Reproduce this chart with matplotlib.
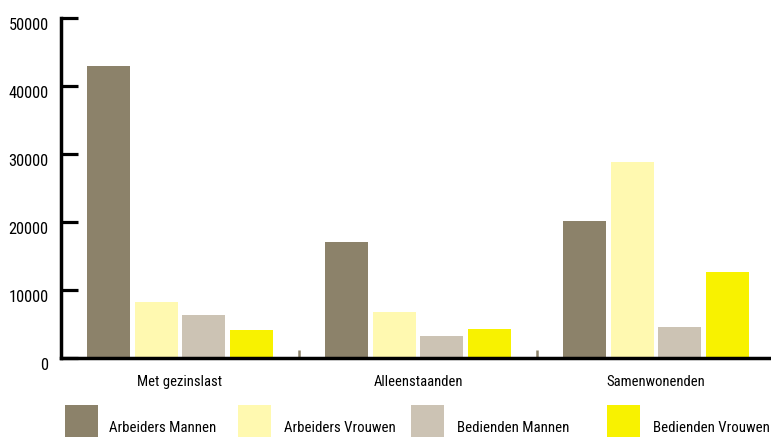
import matplotlib
matplotlib.use("Agg")
import matplotlib.pyplot as plt
from matplotlib import font_manager as fm
from matplotlib.patches import Rectangle
from matplotlib.transforms import ScaledTranslation
import numpy as np

categories = ["Met gezinslast", "Alleenstaanden", "Samenwonenden"]
series_names = ["Arbeiders Mannen", "Arbeiders Vrouwen", "Bedienden Mannen", "Bedienden Vrouwen"]
arbeiders_mannen = [43000, 17000, 20100]
arbeiders_vrouwen = [8200, 6800, 28800]
bedienden_mannen = [6300, 3200, 4500]
bedienden_vrouwen = [4100, 4300, 12600]
y_ticks = [0, 10000, 20000, 30000, 40000, 50000]

series = [arbeiders_mannen, arbeiders_vrouwen, bedienden_mannen, bedienden_vrouwen]
colors = ["#8c826a", "#fff9b0", "#ccc3b4", "#f8f200"]

# pick a narrow font if one is available
names = {f.name for f in fm.fontManager.ttflist}
family, stretch = None, "normal"
for c in ["Liberation Sans Narrow", "Arial Narrow", "Roboto Condensed", "Noto Sans Condensed",
          "DejaVu Sans Condensed", "Open Sans Condensed"]:
    if c in names:
        family = c
        break
if family is None:
    for base in ["DejaVu Sans", "Noto Sans", "Open Sans", "Roboto", "Liberation Sans"]:
        if any(f.name == base and str(f.stretch) in ("condensed", "semi-condensed", "extra-condensed")
               for f in fm.fontManager.ttflist):
            family, stretch = base, "condensed"
            break
if family is None:
    family = "Roboto" if "Roboto" in names else "DejaVu Sans"
plt.rcParams['font.family'] = [family, 'DejaVu Sans']
plt.rcParams['font.stretch'] = stretch

W, H = 771, 437
fig = plt.figure(figsize=(W / 100, H / 100), dpi=100)

# scale font sizes so text widths match the reference
renderer = fig.canvas.get_renderer()


def fit(text, target):
    t = fig.text(0, 0, text, fontsize=12)
    w = t.get_window_extent(renderer).width
    t.remove()
    return min(14, 12 * target / w)


fs_y = fit("50000", 40)
fs_x = fit("Met gezinslast", 84)
fs_l = fit("Arbeiders Mannen", 107)

ax = fig.add_axes([61 / W, (H - 358) / H, (W - 61) / W, 340 / H])

x = np.arange(len(categories))
step = 0.2
width = 0.181
for i, (vals, c) in enumerate(zip(series, colors)):
    ax.bar(x + (i - 1.5) * step, vals, width=width, color=c, zorder=2)

ax.set_ylim(0, 50000)
ax.set_xlim(-0.5, 2.5 - 4 / 238)
ax.set_yticks(y_ticks)
ax.set_yticklabels([str(v) for v in y_ticks], fontsize=fs_y)
ax.set_xticks(x)
ax.set_xticklabels(categories, fontsize=fs_x)
ax.set_xticks([0.5, 1.5], minor=True)

for s in ["top", "right"]:
    ax.spines[s].set_visible(False)
ax.spines["left"].set_linewidth(2.5)
ax.spines["bottom"].set_linewidth(2.5)
ax.spines["left"].set_zorder(3)
ax.spines["bottom"].set_zorder(3)

ax.tick_params(axis="y", direction="in", length=12.5, width=2.3, pad=9, colors="black")
ax.tick_params(axis="x", which="major", length=0, pad=12)
ax.tick_params(axis="x", which="minor", direction="in", length=6, width=1.8, color="#8c826a")

# y tick labels sit a little below their ticks in the reference
shift = ScaledTranslation(0, -6 / 100, fig.dpi_scale_trans)
for lab in ax.get_yticklabels():
    lab.set_transform(lab.get_transform() + shift)

# legend drawn manually at figure positions
sw_x = [65, 238, 411, 607]
lab_x = [109, 284, 457, 653]
for sx, lx, c, name in zip(sw_x, lab_x, colors, series_names):
    fig.patches.append(Rectangle((sx / W, 0), 33 / W, 32 / H, transform=fig.transFigure,
                                 facecolor=c, edgecolor="none"))
    fig.text(lx / W, (H - 428) / H, name, fontsize=fs_l, va="center", ha="left")

fig.savefig("out.png", dpi=100)
